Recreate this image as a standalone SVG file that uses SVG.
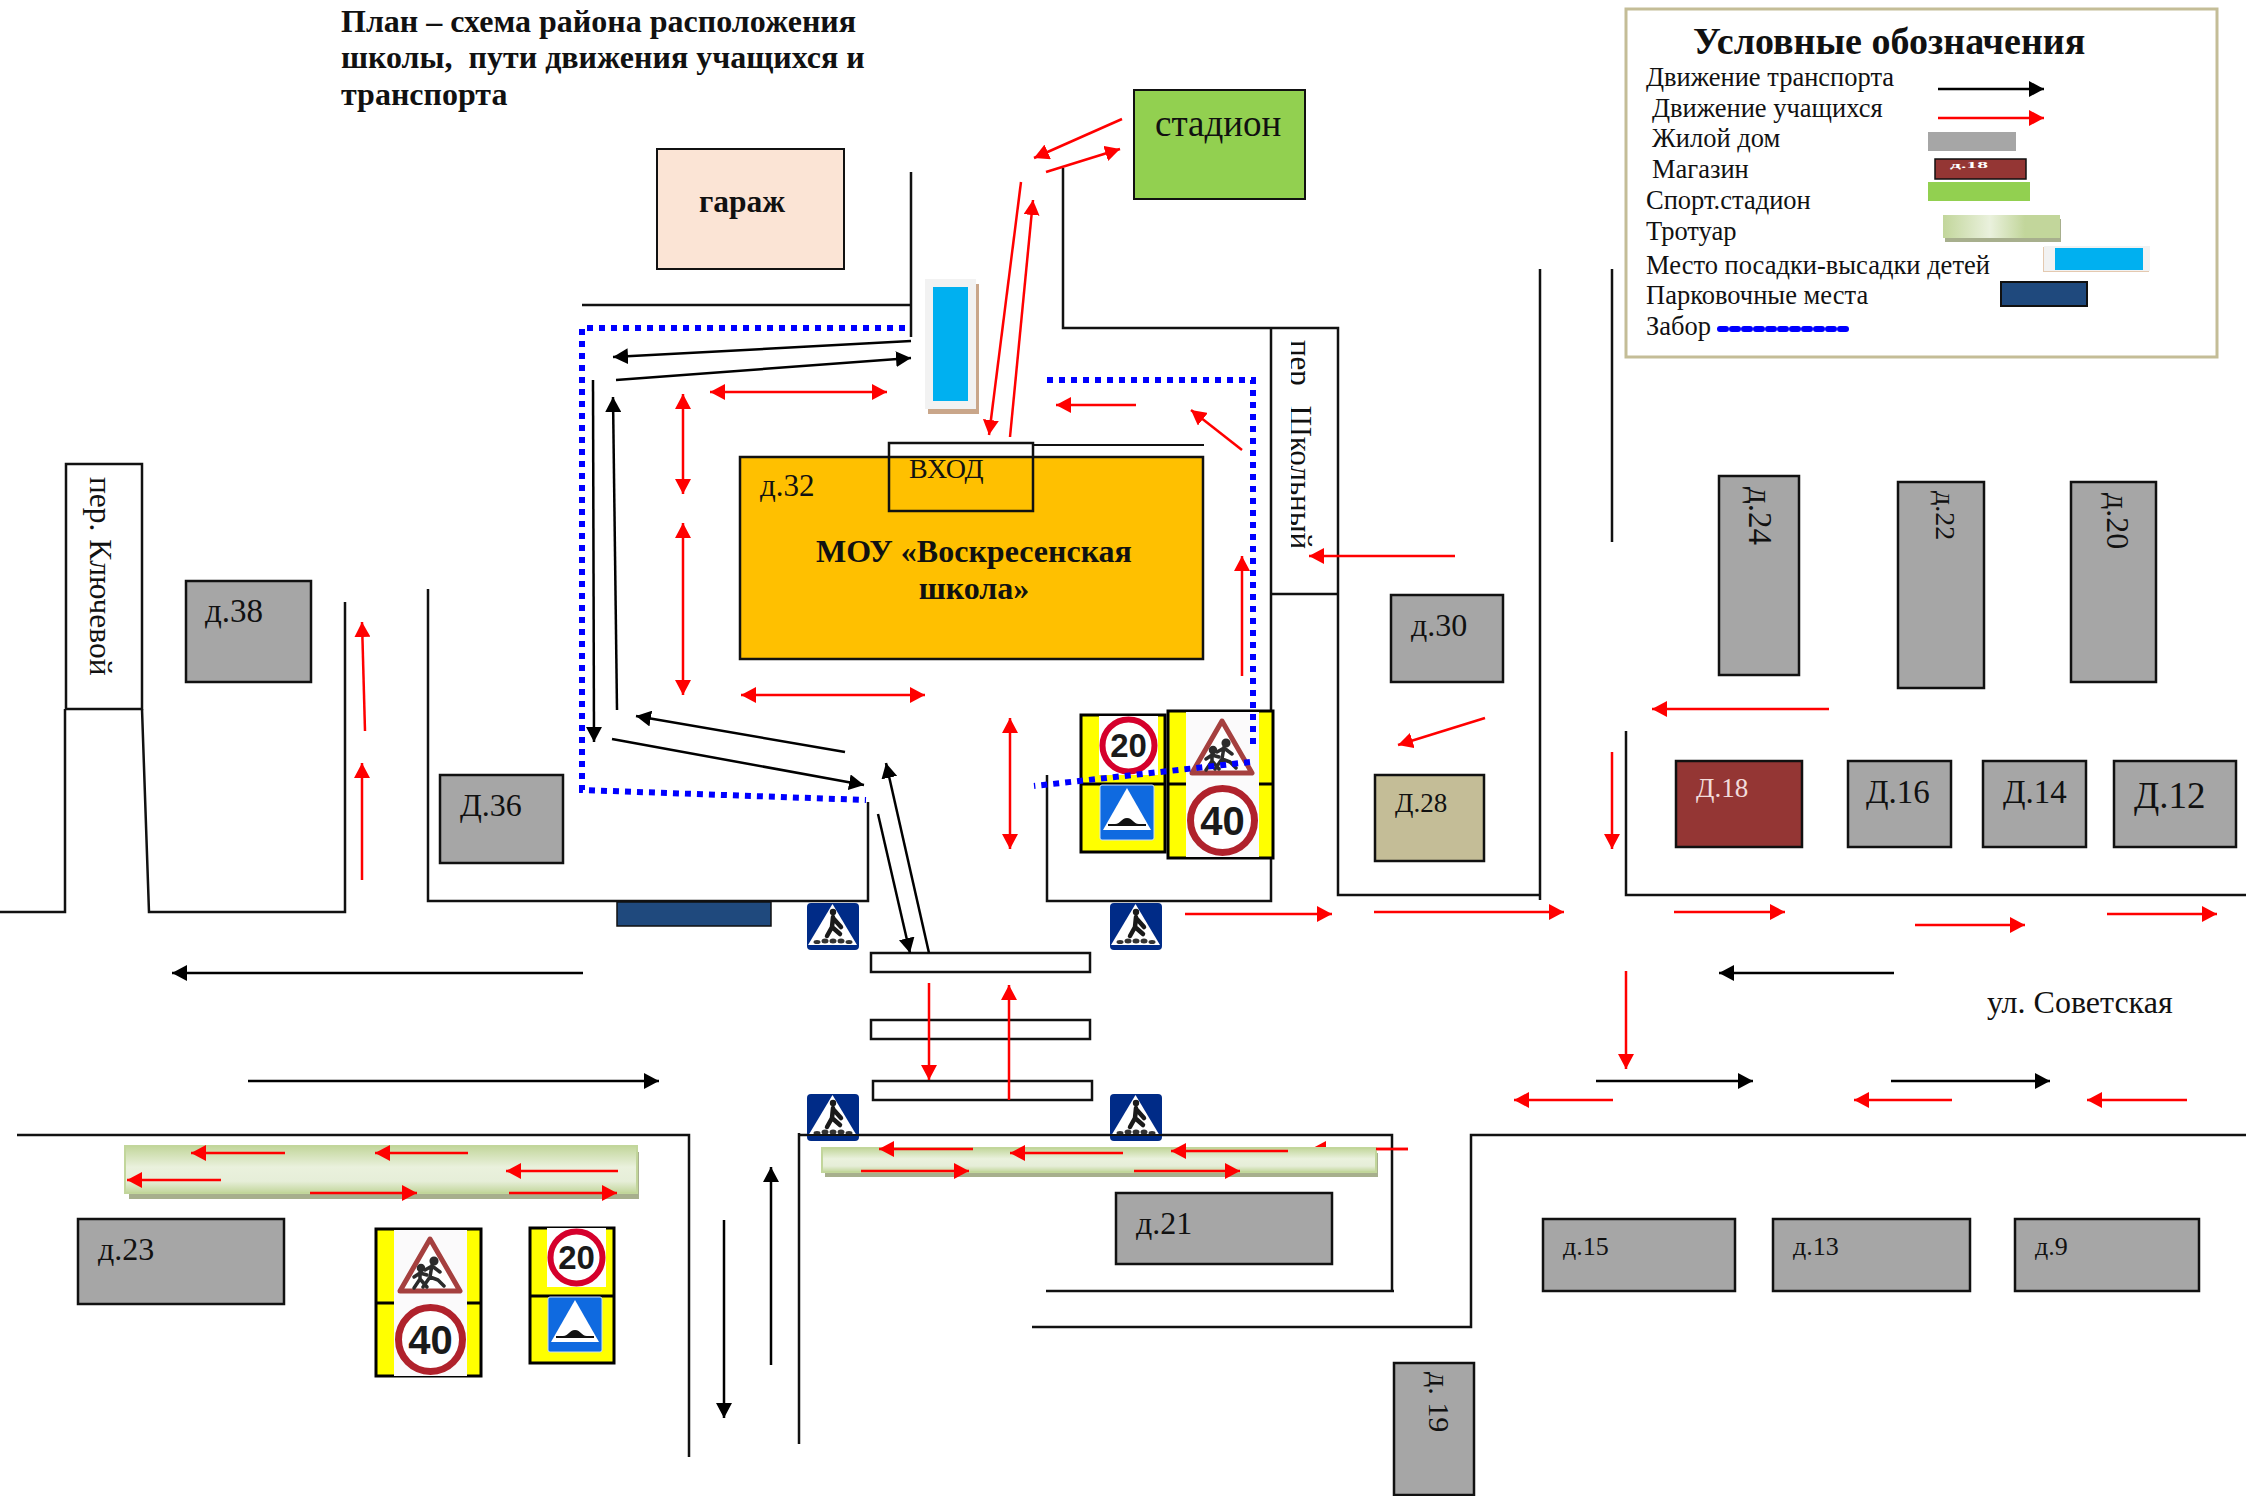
<svg xmlns="http://www.w3.org/2000/svg" width="2246" height="1496" viewBox="0 0 2246 1496">
<style>
text{font-family:"Liberation Serif","DejaVu Serif",serif;fill:#111}
.b{font-weight:bold}
.sans{font-family:"Liberation Sans",Arial,sans-serif;font-weight:bold;text-anchor:middle;fill:#1a1a1a}
.road{fill:none;stroke:#111;stroke-width:2.5}
.house{fill:#a6a6a6;stroke:#111;stroke-width:2.5}
.k{fill:none;stroke:#000;stroke-width:2.5;marker-end:url(#ak)}
.r{fill:none;stroke:#f00;stroke-width:2.5;marker-end:url(#ar)}
.rr{fill:none;stroke:#f00;stroke-width:2.5;marker-end:url(#ar);marker-start:url(#ar)}
.fence{fill:none;stroke:#00f;stroke-width:6;stroke-dasharray:6 6}
.panel{fill:#ff0;stroke:#000;stroke-width:3}
.div{stroke:#000;stroke-width:3}
.cross{fill:#fff;stroke:#111;stroke-width:2.5}
.lg{font-size:26.5px}
</style>
<defs>
<marker id="ak" markerUnits="userSpaceOnUse" markerWidth="16" markerHeight="16" refX="15" refY="8" orient="auto-start-reverse"><path d="M0 0L15 8L0 16z" fill="#000"/></marker>
<marker id="ar" markerUnits="userSpaceOnUse" markerWidth="16" markerHeight="16" refX="15" refY="8" orient="auto-start-reverse"><path d="M0 0L15 8L0 16z" fill="#f00"/></marker>
<linearGradient id="walk" x1="0" y1="0" x2="0" y2="1"><stop offset="0" stop-color="#c2d69b"/><stop offset=".45" stop-color="#eaf1dd"/><stop offset=".75" stop-color="#e6eed8"/><stop offset="1" stop-color="#c2d69b"/></linearGradient>
<linearGradient id="walkh" x1="0" y1="0" x2="1" y2="0"><stop offset="0" stop-color="#c2d69b"/><stop offset=".4" stop-color="#eaf1dd"/><stop offset=".7" stop-color="#c2d69b"/></linearGradient>
<clipPath id="shk"><rect x="1291" y="330" width="40" height="225"/></clipPath>
<g id="s20"><rect width="59" height="59" fill="#fff"/><circle cx="29.500" cy="29.500" r="26" fill="#fff" stroke="#d5002c" stroke-width="6"/><text class="sans" x="29.500" y="41" font-size="33">20</text></g>
<g id="s40"><rect width="73" height="73" fill="#fbfafb"/><circle cx="36.500" cy="36.500" r="32" fill="#fff" stroke="#b0222c" stroke-width="7"/><text class="sans" x="36.500" y="51" font-size="40">40</text></g>
<g id="skids"><rect width="73" height="73" fill="#fbfafb"/><path d="M36 9L66 61H6z" fill="#fff" stroke="#a5403f" stroke-width="5" stroke-linejoin="round"/><g fill="none" stroke="#2b2b2b" stroke-width="3.500" stroke-linecap="round" stroke-linejoin="round"><circle cx="27" cy="38" r="2.500" fill="#2b2b2b"/><path d="M26 42V49L20 58M26 49L33 57M26 43L20 47M26 43L33 45"/><circle cx="40" cy="31" r="2.800" fill="#2b2b2b"/><path d="M38 35L36 47L29 57M36 47L44 50L50 56M38 36L31 40M38 36L46 42"/></g></g>
<g id="sbump"><rect width="54" height="55" rx="2" fill="#0f6ae0" stroke="#cfe0f5"/><path d="M27 3L51 45H3z" fill="#fff"/><path d="M8 39H15C21 39 21 33 27 33S33 39 39 39H46V41H8z" fill="#111"/></g>
<g id="sped"><rect width="52" height="47" rx="4" fill="#002b87"/><path d="M25.500 1L50 42H1z" fill="#fff"/><circle cx="26" cy="9" r="3.200" fill="#1a1a1a"/><g fill="none" stroke="#1a1a1a" stroke-width="4.500" stroke-linecap="round" stroke-linejoin="round"><path d="M26 14L25 24L33 31M25 24L20 33M26 15L34 24"/></g><g fill="#333"><ellipse cx="10" cy="39" rx="3.500" ry="2"/><ellipse cx="18" cy="38" rx="3.500" ry="2.500"/><ellipse cx="26" cy="38" rx="3.500" ry="2.500"/><ellipse cx="34" cy="38" rx="3.500" ry="2.500"/><ellipse cx="42" cy="39" rx="3.500" ry="2"/></g></g>
</defs>
<rect width="2246" height="1496" fill="#fff"/>

<g id="title">
<text class="b" font-size="32" x="341" y="32">План – схема района расположения</text>
<text class="b" font-size="32" x="341" y="68" xml:space="preserve">школы,  пути движения учащихся и</text>
<text class="b" font-size="32" x="341" y="105">транспорта</text>
</g>

<g id="legend">
<rect x="1626" y="9" width="591" height="348" fill="#fff" stroke="#c4bd97" stroke-width="3"/>
<text class="b" font-size="38" x="1693" y="54">Условные обозначения</text>
<text class="lg" x="1646" y="86">Движение транспорта</text>
<text class="lg" x="1652" y="117">Движение учащихся</text>
<text class="lg" x="1652" y="147">Жилой дом</text>
<text class="lg" x="1652" y="178">Магазин</text>
<text class="lg" x="1646" y="209">Спорт.стадион</text>
<text class="lg" x="1646" y="240">Тротуар</text>
<text class="lg" x="1646" y="274">Место посадки-высадки детей</text>
<text class="lg" x="1646" y="304">Парковочные места</text>
<text class="lg" x="1646" y="335">Забор</text>
<line class="k" x1="1938" y1="89" x2="2044" y2="89"/>
<line class="r" x1="1938" y1="118" x2="2044" y2="118"/>
<rect x="1928" y="132" width="88" height="19" fill="#a6a6a6"/>
<rect x="1935" y="159" width="91" height="20" fill="#943634" stroke="#111" stroke-width="1.500"/>
<text x="1950" y="168" font-size="9" style="fill:#fff" font-weight="bold" textLength="38" lengthAdjust="spacingAndGlyphs">д.18</text>
<rect x="1928" y="182" width="102" height="19" fill="#92d050"/>
<rect x="1945" y="219" width="116" height="23" fill="#a7af8d"/>
<rect x="1943" y="215" width="117" height="23" fill="url(#walkh)"/>
<rect x="2043" y="247" width="106" height="25" fill="#e4c9b0"/>
<rect x="2044" y="246" width="106" height="25" fill="#f2f2f2"/>
<rect x="2055" y="248" width="88" height="22" fill="#00b0f0"/>
<rect x="2001" y="282" width="86" height="24" fill="#1f497d" stroke="#111" stroke-width="2"/>
<line x1="1720" y1="329" x2="1848" y2="329" stroke="#00f" stroke-width="6" stroke-dasharray="6 6" stroke-linecap="round"/>
</g>

<g id="connectors-under">
<line class="r" x1="1408" y1="1149" x2="1311" y2="1149"/>
</g>

<g id="roads">
<path class="road" d="M0 912H65V709M142 709L149 912H345V602"/>
<path class="road" d="M428 589V901H868V802"/>
<path class="road" d="M582 305H911M911 172V337"/>
<path class="road" d="M1063 168V328H1338V895H1540M1540 269V900"/>
<path class="road" d="M1271 328V901H1047V775"/>
<path class="road" d="M1271 594H1338"/>
<path class="road" d="M1612 269V542"/>
<path class="road" d="M1626 731V895H2246"/>
<path class="road" d="M17 1135H689V1457"/>
<path class="road" d="M799 1133V1444M799 1135H1392V1291M1046 1291H1394"/>
<path class="road" d="M2246 1135H1471V1327H1032"/>
</g>

<g id="sidewalk-left">
<rect x="129" y="1152" width="510" height="47" fill="#a7af8d"/>
<rect x="125" y="1146" width="512" height="47" fill="url(#walk)" stroke="#c2d69b" stroke-width="2"/>
</g>
<g id="sidewalk-right">
<rect x="825" y="1153" width="553" height="24" fill="#a7af8d"/>
<rect x="822" y="1148" width="554" height="24" fill="url(#walk)" stroke="#c2d69b" stroke-width="2"/>
</g>
<line x1="1376" y1="1149" x2="1408" y2="1149" stroke="#f00" stroke-width="2.500"/>

<g id="pereulok-klyuchevoy">
<rect x="66" y="464" width="76" height="245" fill="#fff" stroke="#111" stroke-width="2.500"/>
<text font-size="31.500" transform="translate(90,477) rotate(90)">пер. Ключевой</text>
</g>
<g id="pereulok-shkolny" clip-path="url(#shk)">
<text font-size="31" word-spacing="12" transform="translate(1289.500,340) rotate(90)">пер Школьный</text>
</g>
<g id="garage"><rect x="657" y="149" width="187" height="120" fill="#fbe4d5" stroke="#111" stroke-width="2"/><text class="b" font-size="31.500" x="742" y="212" text-anchor="middle">гараж</text></g>
<g id="stadium"><rect x="1134" y="90" width="171" height="109" fill="#92d050" stroke="#111" stroke-width="2"/><text font-size="37" x="1155" y="136">стадион</text></g>
<g id="bus-stop">
<rect x="928" y="284" width="51" height="130" fill="#c9a68a"/>
<rect x="925" y="279" width="51" height="130" fill="#f2f2f2"/>
<rect x="933" y="287" width="35" height="114" fill="#00b0f0"/>
</g>
<g id="school">
<rect x="740" y="457" width="463" height="202" fill="#ffc000" stroke="#111" stroke-width="2.500"/>
<text font-size="31" x="760" y="496">д.32</text>
<text class="b" font-size="32" x="974" y="562" text-anchor="middle">МОУ «Воскресенская</text>
<text class="b" font-size="32" x="974" y="599" text-anchor="middle">школа»</text>
</g>
<g id="entrance">
<rect x="889" y="443" width="144" height="68" fill="none" stroke="#111" stroke-width="2.500"/>
<line x1="1033" y1="445" x2="1204" y2="445" stroke="#111" stroke-width="2"/>
<text font-size="28" x="909" y="478">ВХОД</text>
</g>
<g id="parking"><rect x="617" y="902" width="154" height="24" fill="#1f497d" stroke="#111" stroke-width="1.500"/></g>

<g id="d38"><rect class="house" x="186" y="581" width="125" height="101"/><text font-size="33" x="205" y="622">д.38</text></g>
<g id="d36"><rect class="house" x="440" y="775" width="123" height="88"/><text font-size="32" x="460" y="816">Д.36</text></g>
<g id="d30"><rect class="house" x="1391" y="595" width="112" height="87"/><text font-size="32" x="1411" y="636">д.30</text></g>
<g id="d28"><rect x="1375" y="775" width="109" height="86" fill="#c4bd97" stroke="#111" stroke-width="2.500"/><text font-size="27" x="1395" y="812">Д.28</text></g>
<g id="d24"><rect class="house" x="1719" y="476" width="80" height="199"/><text font-size="33" transform="translate(1749,487) rotate(90)">д.24</text></g>
<g id="d22"><rect class="house" x="1898" y="482" width="86" height="206"/><text font-size="28" transform="translate(1936,491) rotate(90)">д.22</text></g>
<g id="d20"><rect class="house" x="2071" y="482" width="85" height="200"/><text font-size="32" transform="translate(2107,493) rotate(90)">д.20</text></g>
<g id="d18"><rect x="1676" y="761" width="126" height="86" fill="#943634" stroke="#111" stroke-width="2.500"/><text font-size="27" x="1696" y="797" style="fill:#f2dcdb">Д.18</text></g>
<g id="d16"><rect class="house" x="1848" y="761" width="103" height="86"/><text font-size="33" x="1866" y="803">Д.16</text></g>
<g id="d14"><rect class="house" x="1983" y="761" width="103" height="86"/><text font-size="33" x="2003" y="803">Д.14</text></g>
<g id="d12"><rect class="house" x="2114" y="761" width="122" height="86"/><text font-size="37" x="2134" y="808">Д.12</text></g>
<g id="d23"><rect class="house" x="78" y="1219" width="206" height="85"/><text font-size="32" x="98" y="1260">д.23</text></g>
<g id="d21"><rect class="house" x="1116" y="1193" width="216" height="71"/><text font-size="32" x="1136" y="1234">д.21</text></g>
<g id="d15"><rect class="house" x="1543" y="1219" width="192" height="72"/><text font-size="26" x="1563" y="1255">д.15</text></g>
<g id="d13"><rect class="house" x="1773" y="1219" width="197" height="72"/><text font-size="26" x="1793" y="1255">д.13</text></g>
<g id="d9"><rect class="house" x="2015" y="1219" width="184" height="72"/><text font-size="26" x="2035" y="1255">д.9</text></g>
<g id="d19"><rect class="house" x="1394" y="1363" width="80" height="132"/><text font-size="30" transform="translate(1429,1372) rotate(90)">д. 19</text></g>
<text id="street" font-size="32" x="1987" y="1013">ул. Советская</text>

<g id="crossing">
<rect class="cross" x="871" y="953" width="219" height="19"/>
<rect class="cross" x="871" y="1020" width="219" height="19"/>
<rect class="cross" x="873" y="1081" width="219" height="19"/>
</g>
<use id="ped1" href="#sped" x="807" y="903"/>
<use id="ped2" href="#sped" x="1110" y="903"/>
<use id="ped3" href="#sped" x="807" y="1094"/>
<use id="ped4" href="#sped" x="1110" y="1094"/>
<line x1="799" y1="1135" x2="1392" y2="1135" stroke="#111" stroke-width="2"/>

<g id="signs-school-left">
<rect class="panel" x="1081" y="715" width="84" height="137"/><line class="div" x1="1081" y1="784" x2="1165" y2="784"/>
<use href="#s20" x="1099" y="716"/><use href="#sbump" x="1100" y="785"/>
</g>
<g id="signs-school-right">
<rect class="panel" x="1168" y="711" width="105" height="147"/><line class="div" x1="1168" y1="784" x2="1273" y2="784"/>
<use href="#skids" x="1186" y="712"/><use href="#s40" x="1186" y="784"/>
</g>
<g id="signs-south-left">
<rect class="panel" x="376" y="1229" width="105" height="147"/><line class="div" x1="376" y1="1303" x2="481" y2="1303"/>
<use href="#skids" x="394" y="1230"/><use href="#s40" x="394" y="1303"/>
</g>
<g id="signs-south-right">
<rect class="panel" x="530" y="1228" width="84" height="135"/><line class="div" x1="530" y1="1296" x2="614" y2="1296"/>
<use href="#s20" x="547" y="1228"/><use href="#sbump" x="548" y="1297"/>
</g>

<g id="fences">
<path class="fence" d="M905 328H582V790L866 800"/>
<path class="fence" d="M1047 380H1253V750"/>
<path class="fence" d="M1250 762L1034 786"/>
</g>

<g id="arrows">
<line class="k" x1="911" y1="341" x2="613" y2="357"/>
<line class="k" x1="616" y1="380" x2="911" y2="358"/>
<line class="k" x1="617" y1="710" x2="613" y2="397"/>
<line class="k" x1="593" y1="380" x2="594" y2="742"/>
<line class="k" x1="845" y1="752" x2="636" y2="716"/>
<line class="k" x1="612" y1="739" x2="864" y2="785"/>
<line class="k" x1="929" y1="953" x2="886" y2="763"/>
<line class="k" x1="878" y1="814" x2="910" y2="953"/>
<line class="k" x1="583" y1="973" x2="172" y2="973"/>
<line class="k" x1="248" y1="1081" x2="659" y2="1081"/>
<line class="k" x1="724" y1="1220" x2="724" y2="1418"/>
<line class="k" x1="771" y1="1365" x2="771" y2="1167"/>
<line class="k" x1="1894" y1="973" x2="1719" y2="973"/>
<line class="k" x1="1596" y1="1081" x2="1753" y2="1081"/>
<line class="k" x1="1891" y1="1081" x2="2050" y2="1081"/>

<line class="r" x1="1122" y1="119" x2="1034" y2="158"/>
<line class="r" x1="1046" y1="172" x2="1120" y2="149"/>
<line class="r" x1="1021" y1="182" x2="989" y2="435"/>
<line class="r" x1="1010" y1="437" x2="1033" y2="200"/>
<line class="rr" x1="710" y1="392" x2="887" y2="392"/>
<line class="rr" x1="683" y1="394" x2="683" y2="494"/>
<line class="rr" x1="683" y1="523" x2="683" y2="695"/>
<line class="rr" x1="741" y1="695" x2="925" y2="695"/>
<line class="r" x1="1136" y1="405" x2="1056" y2="405"/>
<line class="r" x1="1242" y1="450" x2="1191" y2="410"/>
<line class="r" x1="1242" y1="676" x2="1242" y2="556"/>
<line class="rr" x1="1010" y1="849" x2="1010" y2="718"/>
<line class="r" x1="1455" y1="556" x2="1309" y2="556"/>
<line class="r" x1="1485" y1="718" x2="1398" y2="745"/>
<line class="r" x1="365" y1="731" x2="362" y2="622"/>
<line class="r" x1="362" y1="880" x2="362" y2="763"/>
<line class="r" x1="1829" y1="709" x2="1652" y2="709"/>
<line class="r" x1="1612" y1="752" x2="1612" y2="849"/>
<line class="r" x1="1185" y1="914" x2="1332" y2="914"/>
<line class="r" x1="1374" y1="912" x2="1564" y2="912"/>
<line class="r" x1="1674" y1="912" x2="1785" y2="912"/>
<line class="r" x1="1915" y1="925" x2="2025" y2="925"/>
<line class="r" x1="2107" y1="914" x2="2217" y2="914"/>
<line class="r" x1="1626" y1="971" x2="1626" y2="1069"/>
<line class="r" x1="1613" y1="1100" x2="1514" y2="1100"/>
<line class="r" x1="1952" y1="1100" x2="1854" y2="1100"/>
<line class="r" x1="2187" y1="1100" x2="2087" y2="1100"/>
<line class="r" x1="929" y1="983" x2="929" y2="1080"/>
<line class="r" x1="1009" y1="1100" x2="1009" y2="985"/>
<line class="r" x1="285" y1="1153" x2="191" y2="1153"/>
<line class="r" x1="468" y1="1153" x2="375" y2="1153"/>
<line class="r" x1="618" y1="1171" x2="506" y2="1171"/>
<line class="r" x1="221" y1="1180" x2="127" y2="1180"/>
<line class="r" x1="310" y1="1193" x2="417" y2="1193"/>
<line class="r" x1="509" y1="1193" x2="617" y2="1193"/>
<line class="r" x1="973" y1="1149" x2="879" y2="1149"/>
<line class="r" x1="1123" y1="1153" x2="1010" y2="1153"/>
<line class="r" x1="1288" y1="1151" x2="1171" y2="1151"/>
<line class="r" x1="861" y1="1171" x2="969" y2="1171"/>
<line class="r" x1="1134" y1="1171" x2="1240" y2="1171"/>
</g>
</svg>
